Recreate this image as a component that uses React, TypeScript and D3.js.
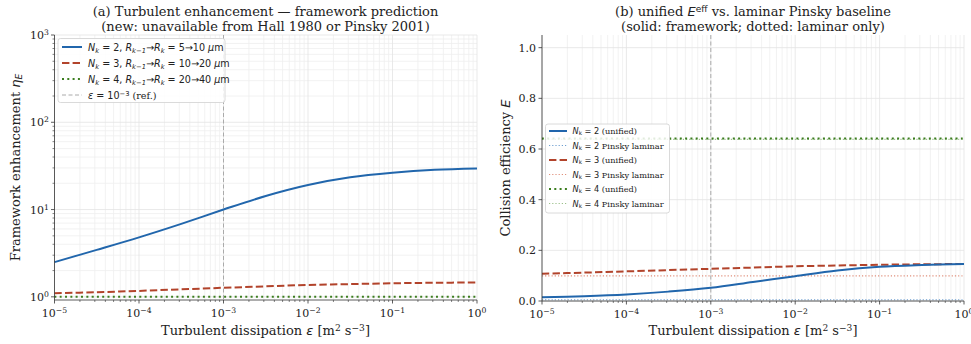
import React from "react";
import * as d3 from "d3";

const EPS = [1e-5, 3.16e-5, 1e-4, 3.16e-4, 1e-3, 3.16e-3, 1e-2, 3.16e-2, 1e-1, 3.16e-1, 1];

// Panel (a): framework enhancement eta_E
const etaN2 = [2.5, 3.45, 4.8, 6.85, 10.0, 14.3, 19.1, 23.4, 26.4, 28.5, 29.5];
const etaN3 = [1.1, 1.13, 1.17, 1.22, 1.27, 1.32, 1.37, 1.4, 1.43, 1.45, 1.46];
const etaN4 = [1.0, 1.0, 1.0, 1.0, 1.0, 1.0, 1.0, 1.0, 1.0, 1.0, 1.0];

// Panel (b): collision efficiency
const effN2 = [0.0144, 0.019, 0.026, 0.037, 0.052, 0.075, 0.098, 0.12, 0.135, 0.142, 0.146];
const lamN2 = [0.005, 0.005, 0.005, 0.005, 0.005, 0.005, 0.005, 0.005, 0.005, 0.005, 0.005];
const effN3 = [0.108, 0.112, 0.117, 0.122, 0.127, 0.132, 0.137, 0.14, 0.143, 0.145, 0.146];
const lamN3 = [0.099, 0.099, 0.099, 0.099, 0.099, 0.099, 0.099, 0.099, 0.099, 0.099, 0.099];
const effN4 = [0.641, 0.641, 0.641, 0.641, 0.641, 0.641, 0.641, 0.641, 0.641, 0.641, 0.641];
const lamN4 = [0.638, 0.638, 0.638, 0.638, 0.638, 0.638, 0.638, 0.638, 0.638, 0.638, 0.638];

const xExps = [-5, -4, -3, -2, -1, 0];
const yExpsA = [0, 1, 2, 3];
const yTicksB = [0, 0.2, 0.4, 0.6, 0.8, 1.0];
const REF_EPS = 1e-3;

const BLUE = "#2166ac";
const RED = "#b2432b";
const GREEN = "#3b7d1e";

const SERIF = "'DejaVu Serif', serif";
const SANS = "'DejaVu Sans', sans-serif";

type Seg = { t: string; it?: boolean; sub?: boolean; sup?: boolean; sans?: boolean };

function Rich({ segs, size, x, y, anchor = "start", transform }: { segs: Seg[]; size: number; x: number; y: number; anchor?: string; transform?: string }) {
  return (
    <text x={x} y={y} fontSize={size} fontFamily={SERIF} textAnchor={anchor as any} fill="#222" transform={transform}>
      {segs.map((s, i) => (
        <tspan
          key={i}
          fontStyle={s.it ? "italic" : "normal"}
          fontFamily={s.sans || s.it ? SANS : SERIF}
          fontSize={s.sub || s.sup ? size * 0.7 : size}
          baselineShift={s.sub ? "-22%" : s.sup ? "45%" : undefined}
        >
          {s.t}
        </tspan>
      ))}
    </text>
  );
}

const mkLine = (xs: (v: number) => number, ys: (v: number) => number, vals: number[]) =>
  d3.line<number>().x((_, i) => xs(EPS[i])).y((v) => ys(v)).curve(d3.curveCatmullRom.alpha(0.5))(vals) || "";

function minorTicks(lo: number, hi: number) {
  const out: number[] = [];
  for (let e = lo; e < hi; e++) for (let m = 2; m <= 9; m++) out.push(m * Math.pow(10, e));
  return out;
}

export default function App() {
  // panel A
  const ax = d3.scaleLog().domain([1e-5, 1]).range([54.5, 477]);
  const ay = d3.scaleLog().domain([0.92, 1000]).range([300, 35]);
  // panel B
  const bx = d3.scaleLog().domain([1e-5, 1]).range([542, 964]);
  const by = d3.scaleLinear().domain([0, 1.05]).range([301, 35]);

  const xMinor = minorTicks(-5, 0);
  const yMinorA = minorTicks(0, 3);

  const gridMajor = "#e3e3e3";
  const gridMinor = "#efefef";
  const spine = "#333";

  const xTickLabels = (sx: any, y0: number) =>
    xExps.map((e) => (
      <g key={"xt" + e}>
        <line x1={sx(Math.pow(10, e))} x2={sx(Math.pow(10, e))} y1={y0} y2={y0 + 3.5} stroke={spine} strokeWidth={0.8} />
        <Rich x={sx(Math.pow(10, e))} y={y0 + 17} size={11} anchor="middle" segs={[{ t: "10" }, { t: e === 0 ? "0" : "\u2212" + Math.abs(e), sup: true }]} />
      </g>
    ));

  return (
    <svg width={971} height={344} style={{ position: "absolute", left: 0, top: 0, background: "#fff" }}>
      <rect width={971} height={344} fill="#fff" />
      {/* ================= Panel A ================= */}
      <g>
        {xMinor.map((v, i) => (
          <line key={"axm" + i} x1={ax(v)} x2={ax(v)} y1={35} y2={300} stroke={gridMinor} strokeWidth={0.8} />
        ))}
        {yMinorA.map((v, i) => (
          <line key={"aym" + i} x1={54.5} x2={477} y1={ay(v)} y2={ay(v)} stroke={gridMinor} strokeWidth={0.8} />
        ))}
        {xExps.map((e) => (
          <line key={"axg" + e} x1={ax(Math.pow(10, e))} x2={ax(Math.pow(10, e))} y1={35} y2={300} stroke={gridMajor} strokeWidth={0.8} />
        ))}
        {yExpsA.map((e) => (
          <line key={"ayg" + e} x1={54.5} x2={477} y1={ay(Math.pow(10, e))} y2={ay(Math.pow(10, e))} stroke={gridMajor} strokeWidth={0.8} />
        ))}
        <line x1={ax(REF_EPS)} x2={ax(REF_EPS)} y1={35} y2={300} stroke="#aaa" strokeWidth={1} strokeDasharray="4,2.5" />
        <path d={mkLine(ax, ay, etaN2)} fill="none" stroke={BLUE} strokeWidth={2} />
        <path d={mkLine(ax, ay, etaN3)} fill="none" stroke={RED} strokeWidth={2} strokeDasharray="7.4,3.2" />
        <path d={mkLine(ax, ay, etaN4)} fill="none" stroke={GREEN} strokeWidth={2} strokeDasharray="2,3.3" />
        {/* spines */}
        <line x1={54.5} x2={54.5} y1={35} y2={300} stroke={spine} strokeWidth={0.8} />
        <line x1={54.5} x2={477} y1={300} y2={300} stroke={spine} strokeWidth={0.8} />
        {xMinor.map((v, i) => (
          <line key={"axmt" + i} x1={ax(v)} x2={ax(v)} y1={300} y2={302} stroke={spine} strokeWidth={0.6} />
        ))}
        {yMinorA.map((v, i) => (
          <line key={"aymt" + i} x1={52.5} x2={54.5} y1={ay(v)} y2={ay(v)} stroke={spine} strokeWidth={0.6} />
        ))}
        {xTickLabels(ax, 300)}
        {yExpsA.map((e) => (
          <g key={"ayt" + e}>
            <line x1={51} x2={54.5} y1={ay(Math.pow(10, e))} y2={ay(Math.pow(10, e))} stroke={spine} strokeWidth={0.8} />
            <Rich x={49} y={ay(Math.pow(10, e)) + 4} size={11} anchor="end" segs={[{ t: "10" }, { t: String(e), sup: true }]} />
          </g>
        ))}
        {/* titles */}
        <text x={265.5} y={16} fontSize={13} fontFamily={SERIF} textAnchor="middle" fill="#222">
          (a) Turbulent enhancement — framework prediction
        </text>
        <text x={265.5} y={31} fontSize={13} fontFamily={SERIF} textAnchor="middle" fill="#222">
          (new: unavailable from Hall 1980 or Pinsky 2001)
        </text>
        <Rich
          x={265.5}
          y={335}
          size={13}
          anchor="middle"
          segs={[{ t: "Turbulent dissipation " }, { t: "ε", it: true }, { t: " [m" }, { t: "2", sup: true }, { t: " s" }, { t: "\u22123", sup: true }, { t: "]" }]}
        />
        <Rich
          x={0}
          y={0}
          size={13}
          anchor="middle"
          transform={`translate(20,${(35 + 300) / 2}) rotate(-90)`}
          segs={[{ t: "Framework enhancement " }, { t: "η", it: true }, { t: "E", it: true, sub: true }]}
        />
        {/* legend */}
        <rect x={58} y={38.5} width={167} height={64} rx={2.5} fill="#fff" fillOpacity={0.85} stroke="#d0d0d0" strokeWidth={0.8} />
        {[
          { c: BLUE, dash: undefined, w: 2, n: "2", r: "5→10" },
          { c: RED, dash: "7.4,3.2", w: 2, n: "3", r: "10→20" },
          { c: GREEN, dash: "2,3.3", w: 2, n: "4", r: "20→40" },
        ].map((l, i) => (
          <g key={"lga" + i}>
            <line x1={62} x2={82} y1={47 + i * 16} y2={47 + i * 16} stroke={l.c} strokeWidth={l.w} strokeDasharray={l.dash} />
            <Rich
              x={88}
              y={50.5 + i * 16}
              size={9.6}
              segs={[
                { t: "N", it: true },
                { t: "k", it: true, sub: true },
                { t: " = " + l.n + ", ", sans: true },
                { t: "R", it: true },
                { t: "k\u22121", it: true, sub: true },
                { t: "→", sans: true },
                { t: "R", it: true },
                { t: "k", it: true, sub: true },
                { t: " = " + l.r + " ", sans: true },
                { t: "μ", it: true },
                { t: "m", sans: true },
              ]}
            />
          </g>
        ))}
        <line x1={62} x2={82} y1={95} y2={95} stroke="#aaa" strokeWidth={1} strokeDasharray="4,2.5" />
        <Rich x={88} y={98.5} size={9.6} segs={[{ t: "ε", it: true }, { t: " = 10", sans: true }, { t: "\u22123", sup: true, sans: true }, { t: " (ref.)" }]} />
      </g>

      {/* ================= Panel B ================= */}
      <g>
        {xMinor.map((v, i) => (
          <line key={"bxm" + i} x1={bx(v)} x2={bx(v)} y1={35} y2={301} stroke={gridMinor} strokeWidth={0.8} />
        ))}
        {xExps.map((e) => (
          <line key={"bxg" + e} x1={bx(Math.pow(10, e))} x2={bx(Math.pow(10, e))} y1={35} y2={301} stroke={gridMajor} strokeWidth={0.8} />
        ))}
        {yTicksB.map((v) => (
          <line key={"byg" + v} x1={542} x2={964} y1={by(v)} y2={by(v)} stroke={gridMajor} strokeWidth={0.8} />
        ))}
        <line x1={bx(REF_EPS)} x2={bx(REF_EPS)} y1={35} y2={301} stroke="#aaa" strokeWidth={1} strokeDasharray="4,2.5" />
        <path d={mkLine(bx, by, lamN4)} fill="none" stroke="#9cc08a" strokeWidth={1.2} strokeDasharray="1.2,2" />
        <path d={mkLine(bx, by, effN4)} fill="none" stroke={GREEN} strokeWidth={2} strokeDasharray="2,3.3" />
        <path d={mkLine(bx, by, lamN3)} fill="none" stroke="#e0907c" strokeWidth={1.2} strokeDasharray="1.2,2" />
        <path d={mkLine(bx, by, effN3)} fill="none" stroke={RED} strokeWidth={2} strokeDasharray="7.4,3.2" />
        <path d={mkLine(bx, by, lamN2)} fill="none" stroke="#6f9fd0" strokeWidth={1.2} strokeDasharray="1.2,2" />
        <path d={mkLine(bx, by, effN2)} fill="none" stroke={BLUE} strokeWidth={2} />
        {/* spines */}
        <line x1={542} x2={542} y1={35} y2={301} stroke={spine} strokeWidth={0.8} />
        <line x1={542} x2={964} y1={301} y2={301} stroke={spine} strokeWidth={0.8} />
        {xMinor.map((v, i) => (
          <line key={"bxmt" + i} x1={bx(v)} x2={bx(v)} y1={301} y2={303} stroke={spine} strokeWidth={0.6} />
        ))}
        {xTickLabels(bx, 301)}
        {yTicksB.map((v) => (
          <g key={"byt" + v}>
            <line x1={538.5} x2={542} y1={by(v)} y2={by(v)} stroke={spine} strokeWidth={0.8} />
            <text x={536} y={by(v) + 4} fontSize={11} fontFamily={SERIF} textAnchor="end" fill="#222">
              {v.toFixed(1)}
            </text>
          </g>
        ))}
        <Rich
          x={753}
          y={16}
          size={13}
          anchor="middle"
          segs={[{ t: "(b) unified " }, { t: "E", it: true }, { t: "eff", sup: true, sans: true }, { t: " vs. laminar Pinsky baseline" }]}
        />
        <text x={753} y={31} fontSize={13} fontFamily={SERIF} textAnchor="middle" fill="#222">
          (solid: framework; dotted: laminar only)
        </text>
        <Rich
          x={753}
          y={335}
          size={13}
          anchor="middle"
          segs={[{ t: "Turbulent dissipation " }, { t: "ε", it: true }, { t: " [m" }, { t: "2", sup: true }, { t: " s" }, { t: "\u22123", sup: true }, { t: "]" }]}
        />
        <Rich
          x={0}
          y={0}
          size={13}
          anchor="middle"
          transform={`translate(510,${(35 + 301) / 2}) rotate(-90)`}
          segs={[{ t: "Collision efficiency " }, { t: "E", it: true }]}
        />
        {/* legend */}
        <rect x={545.5} y={124} width={124} height={89} rx={2.5} fill="#fff" fillOpacity={0.85} stroke="#d0d0d0" strokeWidth={0.8} />
        {[
          { c: BLUE, dash: undefined, w: 2, n: "2", lab: " (unified)" },
          { c: "#6f9fd0", dash: "1.2,2", w: 1.2, n: "2", lab: " Pinsky laminar" },
          { c: RED, dash: "7.4,3.2", w: 2, n: "3", lab: " (unified)" },
          { c: "#e0907c", dash: "1.2,2", w: 1.2, n: "3", lab: " Pinsky laminar" },
          { c: GREEN, dash: "2,3.3", w: 2, n: "4", lab: " (unified)" },
          { c: "#9cc08a", dash: "1.2,2", w: 1.2, n: "4", lab: " Pinsky laminar" },
        ].map((l, i) => (
          <g key={"lgb" + i}>
            <line x1={549} x2={567} y1={131 + i * 14.5} y2={131 + i * 14.5} stroke={l.c} strokeWidth={l.w} strokeDasharray={l.dash} />
            <Rich
              x={572.5}
              y={134.2 + i * 14.5}
              size={8.2}
              segs={[{ t: "N", it: true }, { t: "k", sub: true, sans: true }, { t: " = " + l.n, sans: true }, { t: l.lab }]}
            />
          </g>
        ))}
      </g>
    </svg>
  );
}
